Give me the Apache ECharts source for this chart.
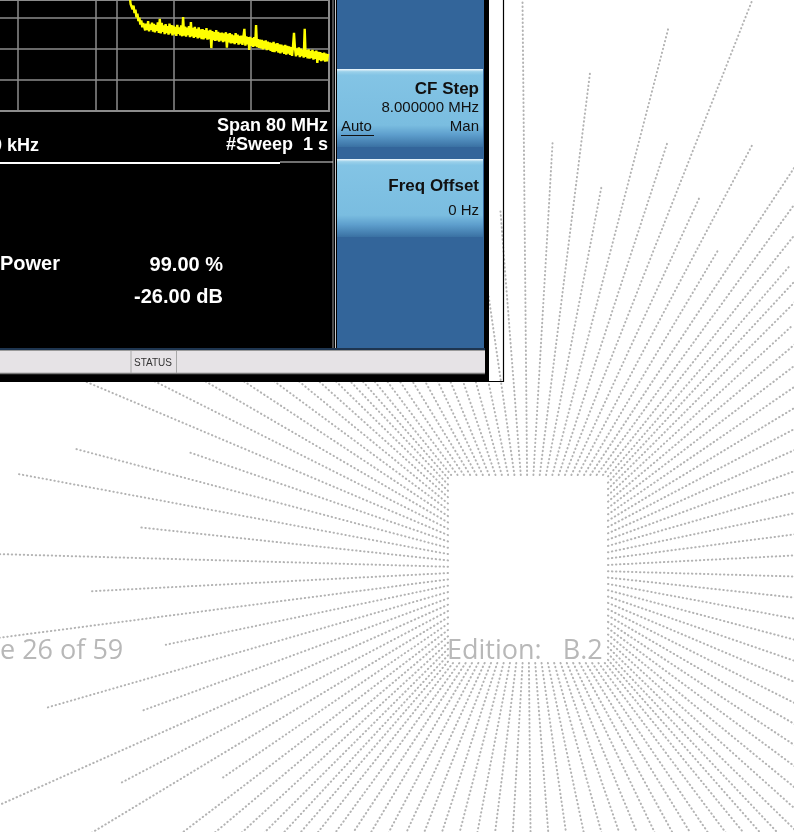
<!DOCTYPE html>
<html>
<head>
<meta charset="utf-8">
<script src="https://cdn.jsdelivr.net/npm/echarts@6/dist/echarts.min.js"></script>
<style>html,body{margin:0;padding:0;background:#fff;}#c{width:794px;height:832px;}</style>
</head>
<body>
<div id="c"></div>
<script>
// ---- Trace data (frequency offset in MHz, level in dBm) ----
const riseFreq  = [18.9, 19.3, 19.5, 19.6, 19.7, 19.8, 19.9, 20.0, 20.1, 20.2, 20.3, 20.4, 20.5, 20.6, 20.7, 20.8, 20.9];
const riseLevel = [-55, -60, -62.8, -65.5, -64.9, -67.2, -66.0, -68.4, -67.3, -69.8, -68.6, -71.0, -69.9, -72.1, -70.8, -73.0, -71.6];
const sweepStartMHz = 21.0;
const sweepStepMHz = 0.1;
const traceLevels = [
  -71.2,-74.0,-71.8,-73.9,-71.0,-74.3,-72.1,-73.8,-71.5,-74.4,
  -71.9,-74.6,-72.3,-74.1,-71.4,-74.8,-70.3,-75.0,-71.6,-74.5,
  -72.4,-75.2,-72.0,-74.9,-72.6,-75.4,-71.8,-75.0,-72.3,-75.6,
  -72.5,-75.3,-72.9,-75.8,-72.2,-75.1,-73.0,-75.6,-72.4,-75.9,
  -69.7,-75.7,-72.8,-76.0,-73.1,-75.5,-72.6,-76.2,-71.3,-75.9,
  -73.2,-76.4,-72.9,-76.1,-73.5,-76.6,-73.0,-76.3,-73.7,-76.8,
  -73.6,-76.9,-73.9,-76.5,-73.3,-77.0,-74.1,-76.8,-73.8,-79.7,
  -74.2,-77.1,-74.6,-77.4,-73.9,-77.2,-74.5,-77.6,-74.8,-77.3,
  -74.7,-77.8,-75.0,-77.5,-74.6,-79.6,-75.1,-77.9,-74.9,-78.2,
  -75.3,-78.1,-75.6,-78.4,-74.9,-78.0,-75.4,-78.6,-75.8,-78.3,
  -75.7,-78.7,-76.0,-73.5,-78.9,-75.9,-78.5,-76.2,-80.3,-76.1,
  -79.0,-76.5,-79.3,-76.2,-79.1,-72.3,-79.4,-76.8,-79.6,-77.0,
  -79.8,-77.1,-80.1,-77.4,-79.9,-77.2,-80.4,-77.6,-80.2,-77.9,
  -80.6,-78.0,-80.9,-77.7,-81.0,-78.3,-80.7,-78.1,-81.2,-78.5,
  -81.4,-78.6,-81.1,-78.9,-81.6,-78.7,-81.8,-79.0,-81.5,-79.2,
  -81.9,-79.4,-82.2,-79.1,-74.8,-79.6,-82.4,-79.8,-82.0,-79.5,
  -82.6,-79.9,-82.3,-80.2,-82.8,-73.5,-82.5,-80.4,-83.0,-80.1,
  -83.1,-80.6,-82.9,-80.3,-83.4,-80.8,-83.2,-80.5,-84.5,-80.9,
  -83.6,-81.0,-83.9,-81.3,-83.7,-81.2,-84.1,-81.5,-84.0,-81.6
];
const markerLineMHz = [18.15];
const refLevelBottom = -100;
const dbPerDiv = 10;
const mhzPerDiv = 8;

// ---- Screen texts ----
const spanText = 'Span 80 MHz';
const sweepText = '#Sweep  1 s';
const rbwText = '00 kHz';
const powerLabel = 'Power';
const powerPct = '99.00 %';
const xdbText = '-26.00 dB';
const statusText = 'STATUS';
const key1 = ['CF Step', '8.000000 MHz', 'Auto', 'Man'];
const key2 = ['Freq Offset', '0 Hz'];
const footerPage = 'Page 26 of 59';
const footerEdition = 'Edition:   B.2';

// ---- decorative sunburst ray lengths (px from centre) ----
const rayLengths = [560,420,600,470,380,520,450,590,400,540,470,360,580,430,500,390,560,450,610,410,480,370,
  540,460,520,400,590,440,360,500,470,560,390,530,420,600,450,380,510,470,570,410,490,360,
  550,430,600,460,400,520,450,580,380,500,440,590,410,530,470,360,560,430,500,400,610,450,
  380,540,470,520,390,580,440,360,510,460,600,420,490,380,550,470,530,400,590,440,370,520,
  460,580,410,500,370,560,440,600,390,520,470,360,540,430,590,410,480,380,570,450,520,400];

const traceData = [];
riseFreq.forEach((f, i) => traceData.push([f, riseLevel[i]]));
traceLevels.forEach((v, i) => traceData.push([+(sweepStartMHz + i * sweepStepMHz).toFixed(2), v]));

const FONT = 'Liberation Sans, Arial, sans-serif';
const FOOT_FONT = '27px "Open Sans", sans-serif';
function txt(text, x, y, align, font, fill, z) {
  return { type: 'text', x: x, y: y, z: z || 20, silent: true,
    style: { text: text, fill: fill || '#fff', font: font,
      textAlign: align, align: align, textVerticalAlign: 'middle', verticalAlign: 'middle' } };
}
function rect(x, y, w, h, fill, z) {
  return { type: 'rect', z: z || 10, silent: true, shape: { x: x, y: y, width: w, height: h }, style: { fill: fill } };
}
function line(x1, y1, x2, y2, stroke, w, z) {
  return { type: 'line', z: z || 12, silent: true, shape: { x1: x1, y1: y1, x2: x2, y2: y2 },
    style: { stroke: stroke, lineWidth: w } };
}

const els = [];
// rays
(function () {
  const cx = 528, cy = 569, hw = 80, hh = 94;
  const P = 4 * hw + 4 * hh;
  const N = rayLengths.length;
  for (let i = 0; i < N; i++) {
    let p = (i + 0.5) / N * P;
    let px, py;
    if (p < 2 * hw) { px = cx - hw + p; py = cy - hh; }
    else if ((p -= 2 * hw) < 2 * hh) { px = cx + hw; py = cy - hh + p; }
    else if ((p -= 2 * hh) < 2 * hw) { px = cx + hw - p; py = cy + hh; }
    else { p -= 2 * hw; px = cx - hw; py = cy + hh - p; }
    const dx = px - cx, dy = py - cy, d = Math.sqrt(dx * dx + dy * dy);
    const L = rayLengths[i];
    els.push({ type: 'line', z: -20, silent: true,
      shape: { x1: px, y1: py, x2: cx + dx / d * L, y2: cy + dy / d * L },
      style: { stroke: '#b3b3b3', lineWidth: 2, lineDash: [0.4, 3.6], lineCap: 'round' } });
  }
})();
// outer thin frame
els.push({ type: 'rect', z: -5, silent: true, shape: { x: -2, y: -2, width: 505.5, height: 383.5 },
  style: { fill: 'none', stroke: '#000', lineWidth: 1.2 } });
// black screen pieces (outside the plot)
els.push(rect(0, 111, 489, 270, '#000', -4));
els.push(rect(330, 0, 159, 112, '#000', -4));
// separator lines
els.push(line(333, 0, 333, 350, '#9a9a9a', 1, 5));
els.push(line(335.5, 0, 335.5, 350, '#c8c8c8', 1, 5));
els.push(line(0, 163, 280, 163, '#ffffff', 2.2, 5));
els.push(line(280, 162, 333, 162, '#e0e0e0', 1, 5));
// softkey panel
els.push(rect(337, 0, 147, 348, '#33659a', 6));
const btnFill = { type: 'linear', x: 0, y: 0, x2: 0, y2: 1, colorStops: [
  { offset: 0, color: '#f2f9fd' }, { offset: 0.035, color: '#9ad0ea' }, { offset: 0.08, color: '#83c4e5' },
  { offset: 0.72, color: '#7abde0' }, { offset: 0.84, color: '#5e9fcd' }, { offset: 1, color: '#3a71a3' }] };
els.push(rect(337, 69, 146, 78, btnFill, 7));
els.push(rect(337, 159, 146, 78, btnFill, 7));
// status bar
els.push(rect(0, 348, 485, 2, '#1e3550', 7));
els.push(rect(0, 350, 485, 24, '#e6e3e6', 7));
els.push(line(0, 350.5, 485, 350.5, '#9a9a9a', 1, 8));
els.push(line(0, 373.5, 485, 373.5, '#7a7a7a', 1.5, 8));
els.push(line(131, 351, 131, 373, '#a8a8a8', 1, 8));
els.push(line(176.5, 351, 176.5, 373, '#a8a8a8', 1, 8));
els.push(txt(statusText, 153, 363, 'center', '10px ' + FONT, '#333'));
// softkey texts
els.push(txt(key1[0], 479, 89, 'right', 'bold 17px ' + FONT, '#111'));
els.push(txt(key1[1], 479, 108, 'right', '15px ' + FONT, '#111'));
els.push(txt(key1[2], 341, 127, 'left', '15px ' + FONT, '#111'));
els.push(line(341, 135.5, 374, 135.5, '#111', 1, 21));
els.push(txt(key1[3], 479, 127, 'right', '15px ' + FONT, '#111'));
els.push(txt(key2[0], 479, 186, 'right', 'bold 17px ' + FONT, '#111'));
els.push(txt(key2[1], 479, 211, 'right', '15px ' + FONT, '#111'));
// screen texts
els.push(txt(spanText, 328, 126, 'right', 'bold 18px ' + FONT));
els.push(txt(sweepText, 328, 145, 'right', 'bold 18px ' + FONT));
els.push(txt(rbwText, 39, 146, 'right', 'bold 18px ' + FONT));
els.push(txt(powerLabel, 0, 264, 'left', 'bold 20px ' + FONT));
els.push(txt(powerPct, 223, 265, 'right', 'bold 20px ' + FONT));
els.push(txt(xdbText, 223, 297, 'right', 'bold 20px ' + FONT));
// footer: place page text so that the part after "Pag" starts at the left edge
const mctx = document.createElement('canvas').getContext('2d');
mctx.font = FOOT_FONT;
const pagW = mctx.measureText('Pag').width;
els.push(txt(footerPage, -pagW, 651, 'left', FOOT_FONT, '#b8b8b8', 2));
els.push(txt(footerEdition, 447, 651, 'left', FOOT_FONT, '#b8b8b8', 2));

const chart = echarts.init(document.getElementById('c'), null, { renderer: 'canvas' });
chart.setOption({
  backgroundColor: '#ffffff',
  animation: false,
  grid: { left: -60, right: 465, top: 0, bottom: 721, show: true, backgroundColor: '#000',
    borderColor: '#8a8a8a', borderWidth: 2, containLabel: false, outerBoundsMode: 'none' },
  xAxis: { type: 'value', min: 0, max: 5 * mhzPerDiv, interval: mhzPerDiv,
    axisLine: { show: false }, axisTick: { show: false }, axisLabel: { show: false },
    splitLine: { show: true, lineStyle: { color: '#8c8c8c', width: 1.5 } } },
  yAxis: { type: 'value', min: refLevelBottom, max: -64.2, interval: dbPerDiv,
    axisLine: { show: false }, axisTick: { show: false }, axisLabel: { show: false },
    splitLine: { show: true, lineStyle: { color: '#8c8c8c', width: 1.5 } } },
  series: [{
    type: 'line', data: traceData, showSymbol: false, symbol: 'none', z: 3,
    lineStyle: { color: '#ffff00', width: 2.4 },
    markLine: { silent: true, symbol: ['none', 'none'], label: { show: false },
      lineStyle: { color: '#8c8c8c', type: 'solid', width: 1.5 },
      data: markerLineMHz.map(v => ({ xAxis: v })) }
  }],
  graphic: { elements: els }
});
</script>
</body>
</html>
